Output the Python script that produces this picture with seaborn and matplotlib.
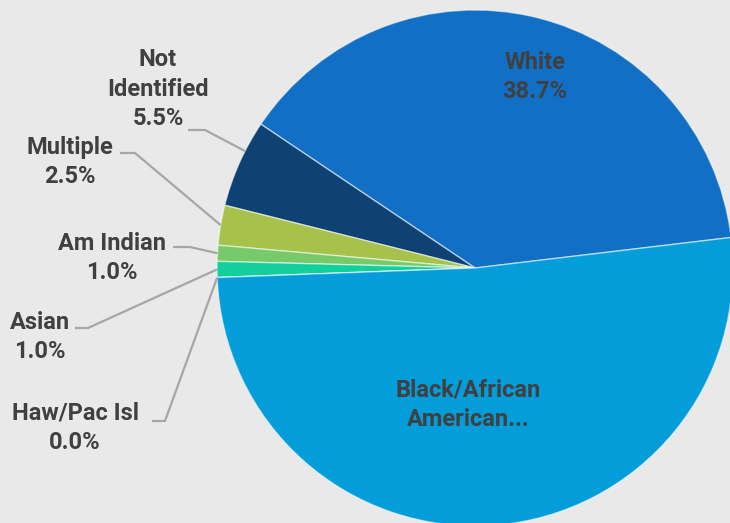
import numpy as np
import matplotlib
matplotlib.use("Agg")
import matplotlib.pyplot as plt
import seaborn as sns
from matplotlib import font_manager

# Race / ethnicity breakdown, in drawing order (counter-clockwise)
categories = ["White", "Not Identified", "Multiple", "Am Indian", "Asian",
              "Haw/Pac Isl", "Black/African American"]
shares = [38.7, 5.5, 2.5, 1.0, 1.0, 0.0, 51.3]
colors = ["#1170C6", "#0D4273", "#A6C24A", "#76CA69", "#12CF9C", "#2E8FD0", "#039DD9"]

sns.set_theme(style="white")
names = {f.name for f in font_manager.fontManager.ttflist}
main_font = "Liberation Sans Narrow" if "Liberation Sans Narrow" in names else "Roboto"
plt.rcParams["font.family"] = [main_font, "DejaVu Sans"]

W, H = 730, 523
fig = plt.figure(figsize=(W / 100, H / 100), dpi=100)
fig.patch.set_facecolor("#E9E9E9")
ax = fig.add_axes([0, 0, 1, 1])
ax.set_facecolor("#E9E9E9")

cx, cy, R = 475, H - 268, 258
wedges, _ = ax.pie(shares, colors=colors, startangle=6.8, counterclock=True,
                   center=(cx, cy), radius=R, frame=True,
                   wedgeprops=dict(edgecolor=(1, 1, 1, 0.55), linewidth=1.0))
ax.set_xlim(0, W)
ax.set_ylim(0, H)
ax.set_aspect("equal")
ax.axis("off")

txt = dict(color="#404040", fontsize=17, fontweight="bold", ha="center",
           va="center", linespacing=1.35)

def pct(v):
    return f"{v:.1f}%"

# labels inside the two large slices
ax.text(535, H - 77, f"{categories[0]}\n{pct(shares[0])}", **txt)
ax.text(468, H - 405, "Black/African\nAmerican...", **txt)

# outside labels with leader lines: (label centre, elbow point, line end, anchor fraction)
outside = {
    1: ((158, 89), (205, 130), (188, 130), 0.35),
    2: ((70, 162), (135, 153), (120, 153), 0.5),
    3: ((112, 258), (190, 247), (173, 247), 0.5),
    4: ((40, 337), (88, 328), (75, 328), 0.5),
    5: ((75, 428), (165, 421), (152, 421), 0.5),
}
label_text = {
    1: "Not\nIdentified\n" + pct(shares[1]),
    2: categories[2] + "\n" + pct(shares[2]),
    3: categories[3] + "\n" + pct(shares[3]),
    4: categories[4] + "\n" + pct(shares[4]),
    5: categories[5] + "\n" + pct(shares[5]),
}
for i, (lab, elbow, end, frac) in outside.items():
    w = wedges[i]
    th = np.deg2rad(w.theta1 + (w.theta2 - w.theta1) * frac)
    ax_x = cx + R * np.cos(th)
    ax_y = cy + R * np.sin(th)
    ax.plot([ax_x, elbow[0], end[0]], [ax_y, H - elbow[1], H - end[1]],
            color="#A6A6A6", lw=1.6, solid_capstyle="butt")
    ax.text(lab[0], H - lab[1], label_text[i], **txt)

fig.savefig("out.png", dpi=100, facecolor=fig.get_facecolor())
